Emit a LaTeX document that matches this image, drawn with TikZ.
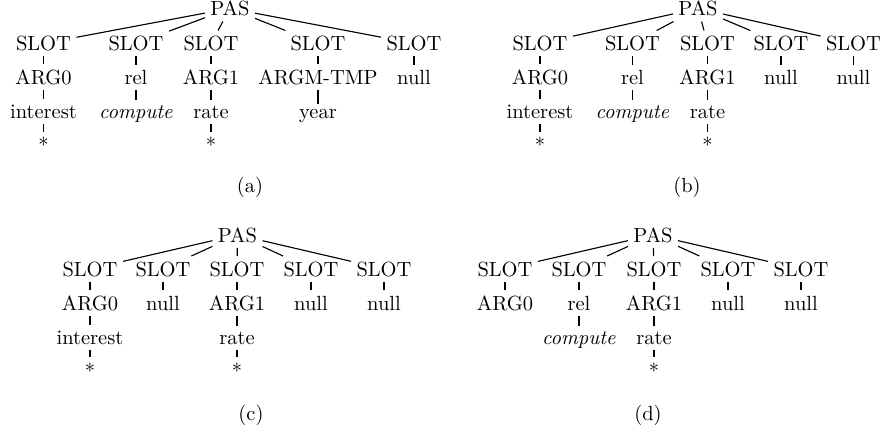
\documentclass[tikz,border=0pt]{standalone}
\usetikzlibrary{positioning}

\begin{document}
\begin{tikzpicture}[
    x=0.4876pt, y=-0.4876pt,
    tn/.style     ={anchor=base, inner sep=2.5pt},
    subcap/.style ={anchor=base},
    branch/.style ={line width=0.55pt}
]
\useasboundingbox (0,0) rectangle (884,435);

% =================== (a): top left ===================
\node[tn] (a-pas)  at (230,15.5)   {PAS};
\node[tn] (a-s1)   at (43.5,50.5)  {SLOT};
\node[tn] (a-s2)   at (136,50.5)   {SLOT};
\node[tn] (a-s3)   at (211,50.5)   {SLOT};
\node[tn] (a-s4)   at (318,50.5)   {SLOT};
\node[tn] (a-s5)   at (414,50.5)   {SLOT};
\node[tn] (a-arg0) at (43.5,84.5)  {ARG0};
\node[tn] (a-rel)  at (136,84.5)   {rel};
\node[tn] (a-arg1) at (211,84.5)   {ARG1};
\node[tn] (a-tmp)  at (318,84.5)   {ARGM-TMP};
\node[tn] (a-nul)  at (414,84.5)   {null};
\node[tn] (a-int)  at (43.5,118.5) {interest};
\node[tn] (a-cmp)  at (136,118.5)  {\textit{compute}};
\node[tn] (a-rate) at (211,118.5)  {rate};
\node[tn] (a-year) at (318,118.5)  {year};
\node[tn] (a-st1)  at (43.5,152.5) {*};
\node[tn] (a-st2)  at (211,152.5)  {*};
\node[subcap] (a-cap) at (250,192) {(a)};

\draw[branch] (a-pas) -- (a-s1) (a-pas) -- (a-s2) (a-pas) -- (a-s3)
              (a-pas) -- (a-s4) (a-pas) -- (a-s5);
\draw[branch] (a-s1) -- (a-arg0) (a-s2) -- (a-rel) (a-s3) -- (a-arg1)
              (a-s4) -- (a-tmp) (a-s5) -- (a-nul);
\draw[branch] (a-arg0) -- (a-int) (a-rel) -- (a-cmp) (a-arg1) -- (a-rate)
              (a-tmp) -- (a-year);
\draw[branch] (a-int) -- (a-st1) (a-rate) -- (a-st2);

% =================== (b): top right ===================
\node[tn] (b-pas)  at (698,15.5)    {PAS};
\node[tn] (b-s1)   at (540,50.5)    {SLOT};
\node[tn] (b-s2)   at (632.5,50.5)  {SLOT};
\node[tn] (b-s3)   at (707.5,50.5)  {SLOT};
\node[tn] (b-s4)   at (781,50.5)    {SLOT};
\node[tn] (b-s5)   at (853.5,50.5)  {SLOT};
\node[tn] (b-arg0) at (540,84.5)    {ARG0};
\node[tn] (b-rel)  at (632.5,84.5)  {rel};
\node[tn] (b-arg1) at (707.5,84.5)  {ARG1};
\node[tn] (b-nul1) at (781,84.5)    {null};
\node[tn] (b-nul2) at (853.5,84.5)  {null};
\node[tn] (b-int)  at (540,118.5)   {interest};
\node[tn] (b-cmp)  at (632.5,118.5) {\textit{compute}};
\node[tn] (b-rate) at (707.5,118.5) {rate};
\node[tn] (b-st1)  at (540,152.5)   {*};
\node[tn] (b-st2)  at (707.5,152.5) {*};
\node[subcap] (b-cap) at (687,192) {(b)};

\draw[branch] (b-pas) -- (b-s1) (b-pas) -- (b-s2) (b-pas) -- (b-s3)
              (b-pas) -- (b-s4) (b-pas) -- (b-s5);
\draw[branch] (b-s1) -- (b-arg0) (b-s2) -- (b-rel) (b-s3) -- (b-arg1)
              (b-s4) -- (b-nul1) (b-s5) -- (b-nul2);
\draw[branch] (b-arg0) -- (b-int) (b-rel) -- (b-cmp) (b-arg1) -- (b-rate);
\draw[branch] (b-int) -- (b-st1) (b-rate) -- (b-st2);

% =================== (c): bottom left ===================
\node[tn] (c-pas)  at (237.5,242) {PAS};
\node[tn] (c-s1)   at (90,276)    {SLOT};
\node[tn] (c-s2)   at (163,276)   {SLOT};
\node[tn] (c-s3)   at (237,276)   {SLOT};
\node[tn] (c-s4)   at (311,276)   {SLOT};
\node[tn] (c-s5)   at (384,276)   {SLOT};
\node[tn] (c-arg0) at (90,310)    {ARG0};
\node[tn] (c-nul1) at (163,310)   {null};
\node[tn] (c-arg1) at (237,310)   {ARG1};
\node[tn] (c-nul2) at (311,310)   {null};
\node[tn] (c-nul3) at (384,310)   {null};
\node[tn] (c-int)  at (90,344)    {interest};
\node[tn] (c-rate) at (237,344)   {rate};
\node[tn] (c-st1)  at (90,378)    {*};
\node[tn] (c-st2)  at (237,378)   {*};
\node[subcap] (c-cap) at (251,420) {(c)};

\draw[branch] (c-pas) -- (c-s1) (c-pas) -- (c-s2) (c-pas) -- (c-s3)
              (c-pas) -- (c-s4) (c-pas) -- (c-s5);
\draw[branch] (c-s1) -- (c-arg0) (c-s2) -- (c-nul1) (c-s3) -- (c-arg1)
              (c-s4) -- (c-nul2) (c-s5) -- (c-nul3);
\draw[branch] (c-arg0) -- (c-int) (c-arg1) -- (c-rate);
\draw[branch] (c-int) -- (c-st1) (c-rate) -- (c-st2);

% =================== (d): bottom right ===================
\node[tn] (d-pas)  at (653,242)  {PAS};
\node[tn] (d-s1)   at (505,276)  {SLOT};
\node[tn] (d-s2)   at (579,276)  {SLOT};
\node[tn] (d-s3)   at (654,276)  {SLOT};
\node[tn] (d-s4)   at (728,276)  {SLOT};
\node[tn] (d-s5)   at (801,276)  {SLOT};
\node[tn] (d-arg0) at (505,310)  {ARG0};
\node[tn] (d-rel)  at (579,310)  {rel};
\node[tn] (d-arg1) at (654,310)  {ARG1};
\node[tn] (d-nul1) at (728,310)  {null};
\node[tn] (d-nul2) at (801,310)  {null};
\node[tn] (d-cmp)  at (579,344)  {\textit{compute}};
\node[tn] (d-rate) at (654,344)  {rate};
\node[tn] (d-st1)  at (654,378)  {*};
\node[subcap] (d-cap) at (648,420) {(d)};

\draw[branch] (d-pas) -- (d-s1) (d-pas) -- (d-s2) (d-pas) -- (d-s3)
              (d-pas) -- (d-s4) (d-pas) -- (d-s5);
\draw[branch] (d-s1) -- (d-arg0) (d-s2) -- (d-rel) (d-s3) -- (d-arg1)
              (d-s4) -- (d-nul1) (d-s5) -- (d-nul2);
\draw[branch] (d-rel) -- (d-cmp) (d-arg1) -- (d-rate);
\draw[branch] (d-rate) -- (d-st1);

\end{tikzpicture}
\end{document}
